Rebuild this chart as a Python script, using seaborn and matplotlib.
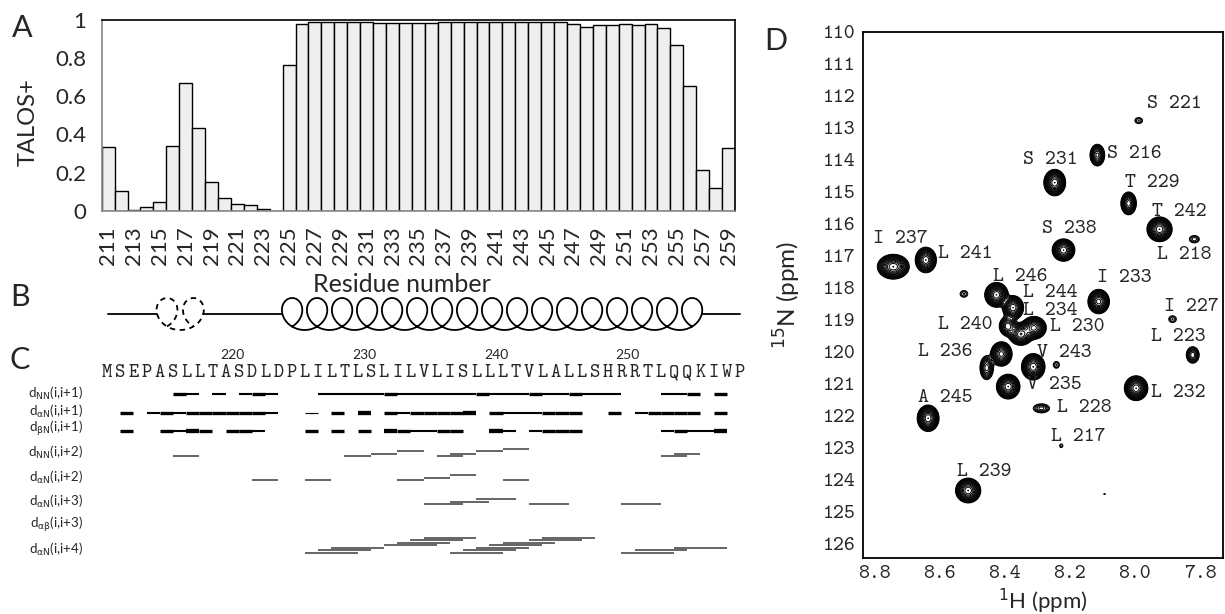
import numpy as np
import matplotlib
matplotlib.use("Agg")
import matplotlib.pyplot as plt
import seaborn as sns

# ---------------- data ----------------
# panel A: TALOS+ helix probability
residues = list(range(211, 260))
talos = [0.332, 0.104, 0.005, 0.018, 0.047, 0.337, 0.668, 0.434, 0.148, 0.065,
         0.035, 0.028, 0.011, 0.0, 0.765, 0.977,
         0.987, 0.987, 0.987, 0.987, 0.987, 0.986, 0.986, 0.986, 0.986, 0.986,
         0.99, 0.99, 0.99, 0.99, 0.99, 0.99, 0.99, 0.99, 0.99, 0.99,
         0.979, 0.965, 0.972, 0.976, 0.978, 0.976, 0.981, 0.958, 0.869, 0.654,
         0.213, 0.121, 0.330]

# panel B: secondary structure
ss_type = ["coil", "dashed", "coil", "helix", "coil"]
ss_start = [211.1, 214.8, 218.3, 224.3, 256.1]
ss_end = [214.8, 218.3, 224.3, 256.1, 259.0]
ss_turns = [0, 2, 0, 17, 0]

# panel C: sequence and NOE connectivities
sequence = "MSEPASLLTASDLDPLILTLSLILVLISLLLTVLALLSHRRTLQQKIWP"
seq_marks = [220, 230, 240, 250]

dnn1_start = [216, 217, 219, 221, 222, 223, 227, 228, 229, 230, 231, 232, 233, 234,
              235, 236, 237, 238, 239, 240, 241, 242, 243, 244, 245, 246, 247, 248,
              249, 253, 254, 255, 257]
dnn1_str = [2, 1, 1, 1, 2, 1, 1, 1, 1, 1, 1, 2, 1, 1,
            1, 1, 1, 1, 2, 1, 1, 1, 2, 1, 1, 2, 1, 1,
            1, 1, 1, 2, 2]
dan1_start = [212, 214, 215, 216, 217, 218, 219, 220, 221, 222, 223, 226, 228, 230,
              232, 233, 234, 235, 236, 237, 238, 240, 241, 242, 243, 244, 245, 246,
              249, 251, 252, 253, 254, 255, 257]
dan1_str = [2, 1, 2, 1, 2, 2, 2, 2, 2, 2, 1, 0, 2, 3,
            2, 1, 2, 2, 2, 2, 3, 2, 1, 1, 1, 2, 2, 2,
            2, 1, 2, 2, 2, 2, 2]
dbn1_start = [212, 215, 216, 217, 218, 220, 221, 222, 226, 228, 230, 232, 233, 234,
              235, 236, 237, 240, 241, 243, 244, 245, 246, 253, 254, 255, 256, 257]
dbn1_str = [2, 2, 1, 3, 2, 2, 2, 1, 2, 2, 2, 3, 2, 1,
            1, 2, 2, 3, 1, 1, 2, 2, 2, 1, 2, 1, 1, 3]

dnn2_start = [216, 229, 231, 233, 236, 237, 239, 241, 253, 254]
dan2_start = [222, 226, 233, 235, 237, 241]
dan3_start = [235, 237, 239, 243, 250]
dab3_start = []
dan4_start = [226, 227, 228, 232, 233, 234, 235, 237, 238, 239, 240, 241, 243, 244,
              250, 251, 254]

row_labels = [r"d$_{\rm NN}$(i,i+1)", r"d$_{\rm \alpha N}$(i,i+1)", r"d$_{\rm \beta N}$(i,i+1)",
              r"d$_{\rm NN}$(i,i+2)", r"d$_{\rm \alpha N}$(i,i+2)", r"d$_{\rm \alpha N}$(i,i+3)",
              r"d$_{\rm \alpha\beta}$(i,i+3)", r"d$_{\rm \alpha N}$(i,i+4)"]

# panel D: 1H-15N HSQC peaks (H ppm, N ppm, intensity, H width, N width)
peak_label = ["S 221", "S 216", "S 231", "T 229", "T 242", "L 218", "S 238", "I 237",
              "L 241", "", "L 246", "L 244", "I 233", "L 230", "L 234", "L 240",
              "L 236", "", "V 243", "", "V 235", "I 227", "L 223", "L 232",
              "L 228", "L 217", "A 245", "L 239", ""]
peak_h = [7.988, 8.115, 8.246, 8.019, 7.924, 7.817, 8.219, 8.742,
          8.642, 8.525, 8.425, 8.374, 8.111, 8.310, 8.350, 8.390,
          8.410, 8.455, 8.312, 8.241, 8.389, 7.884, 7.822, 7.996,
          8.287, 8.226, 8.635, 8.512, 8.093]
peak_n = [112.77, 113.85, 114.71, 115.36, 116.17, 116.48, 116.82, 117.34,
          117.13, 118.19, 118.22, 118.62, 118.43, 119.25, 119.45, 119.20,
          120.07, 120.50, 120.47, 120.41, 121.09, 118.98, 120.10, 121.14,
          121.77, 122.94, 122.08, 124.34, 124.45]
peak_int = [0.07, 0.45, 1.0, 0.6, 1.0, 0.08, 0.8, 1.0,
            0.8, 0.07, 1.0, 0.8, 0.9, 0.9, 0.8, 0.4,
            0.9, 0.3, 1.0, 0.07, 1.0, 0.07, 0.25, 1.0,
            0.12, 0.05, 1.0, 1.0, 0.04]
peak_wh = [0.010, 0.010, 0.013, 0.010, 0.015, 0.012, 0.014, 0.019,
           0.013, 0.010, 0.014, 0.013, 0.013, 0.015, 0.015, 0.012,
           0.013, 0.010, 0.014, 0.008, 0.014, 0.010, 0.010, 0.014,
           0.016, 0.006, 0.013, 0.015, 0.006]
peak_wn = [0.08, 0.15, 0.16, 0.15, 0.15, 0.09, 0.14, 0.15,
           0.16, 0.09, 0.15, 0.15, 0.15, 0.14, 0.14, 0.14,
           0.15, 0.18, 0.16, 0.09, 0.15, 0.09, 0.13, 0.15,
           0.09, 0.07, 0.16, 0.15, 0.03]

# label anchor points (left edge, centre) in ppm -- layout only
label_pos = {
    "S 221": (7.964, 112.25), "S 216": (8.084, 113.81), "S 231": (8.345, 114.0),
    "T 229": (8.029, 114.72), "T 242": (7.946, 115.63), "L 218": (7.931, 116.97),
    "S 238": (8.286, 116.16), "I 237": (8.804, 116.47), "L 241": (8.605, 116.94),
    "L 246": (8.436, 117.66), "I 233": (8.117, 117.69), "L 244": (8.345, 118.17),
    "L 234": (8.345, 118.72), "L 240": (8.605, 119.16), "L 230": (8.262, 119.22),
    "I 227": (7.909, 118.6), "L 223": (7.95, 119.54), "L 236": (8.666, 120.0),
    "V 243": (8.301, 120.04), "V 235": (8.33, 121.04), "L 232": (7.95, 121.29),
    "A 245": (8.666, 121.44), "L 228": (8.24, 121.76), "L 217": (8.256, 122.66),
    "L 239": (8.547, 123.76),
}

# ---------------- figure ----------------
sns.set_style("white")
plt.rcParams["font.family"] = ["Lato", "DejaVu Sans"]
W, H = 1225, 614
fig = plt.figure(figsize=(W / 100, H / 100), dpi=100)
GREY = "#888888"
MONO = "cmtt10"

# ---- A
axA = fig.add_axes([101.7 / W, 1 - 210.7 / H, (735 - 101.7) / W, (210.7 - 20) / H])
sns.barplot(x=residues, y=talos, native_scale=True, width=1.0, color="#efefef",
            saturation=1, edgecolor="black", linewidth=1.0, errorbar=None, ax=axA)
axA.set_xlim(210.5, 259.5)
axA.set_ylim(0, 1)
axA.set_xticks(residues[::2])
axA.set_xticklabels([str(r) for r in residues[::2]], rotation=90)
axA.set_xticks(np.arange(210.5, 260, 1), minor=True)
axA.tick_params(axis="x", which="major", length=0, pad=11, labelsize=16)
axA.tick_params(axis="x", which="minor", length=5, color=GREY, width=1, direction="out")
axA.set_yticks([0, 0.2, 0.4, 0.6, 0.8, 1.0])
axA.set_yticklabels(["0", "0.2", "0.4", "0.6", "0.8", "1"])
axA.tick_params(axis="y", length=6, color=GREY, width=1, pad=5, labelsize=16, direction="out")
for s in ["left", "bottom"]:
    axA.spines[s].set_color(GREY)
    axA.spines[s].set_linewidth(1.2)
for s in ["top", "right"]:
    axA.spines[s].set_color("black")
    axA.spines[s].set_linewidth(1.2)
axA.set_xlabel("Residue number", fontsize=18)
axA.xaxis.set_label_coords(0.474, -0.325)
axA.set_ylabel("TALOS+", fontsize=17)
axA.yaxis.set_label_coords(-0.1, 0.465)

# ---- B and C share one residue axis, y in pixel rows
axC = fig.add_axes([100.4 / W, 1 - 570 / H, 646.2 / W, 280 / H])
axC.set_xlim(210.5, 259.5)
axC.set_ylim(570, 290)
axC.axis("off")

# secondary structure cartoon: looped coil, each loop crossing near its base
y0, amp_y = 314, 16
for kind, s0, s1, nt in zip(ss_type, ss_start, ss_end, ss_turns):
    if kind == "coil":
        axC.plot([s0, s1], [y0, y0], color="black", lw=1.3)
        continue
    rad = 1.21 if kind == "helix" else 1.25
    c = (s1 - s0 - 2 * rad) / ((2 * nt - 3) * np.pi)
    x0 = s0 + rad - 1.5 * np.pi * c
    grid = np.linspace(0.01, np.pi, 20000)
    half = grid[np.argmin(np.abs(np.sin(grid) / grid - c / rad))]
    t = np.linspace(np.pi - half, (2 * nt - 1) * np.pi + half, 300 * nt)
    xs = x0 + c * t + rad * np.sin(t)
    ys = y0 + amp_y * np.cos(t)
    axC.plot(xs, ys, color="black", lw=1.3,
             ls="-" if kind == "helix" else (0, (3, 2.5)))

# sequence
for i, aa in enumerate(sequence):
    axC.text(residues[i], 373, aa, ha="center", va="center", fontsize=14,
             family=MONO)
for m in seq_marks:
    axC.text(m + 0.5, 355, str(m), ha="center", va="center", fontsize=10)

row_y = [394, 412.7, 430.7, 456, 480, 504, 528, 552.7]
label_y = [393, 411, 429, 452, 477, 501, 525, 549]
for lab, ly in zip(row_labels, label_y):
    axC.text(209.2, ly, lab, ha="right", va="center", fontsize=9.5)

lw_map = {0: 0.8, 1: 1.5, 2: 2.4, 3: 3.1}
for starts, strs, yy in [(dnn1_start, dnn1_str, row_y[0]),
                         (dan1_start, dan1_str, row_y[1]),
                         (dbn1_start, dbn1_str, row_y[2])]:
    for s, k in zip(starts, strs):
        axC.plot([s, s + 1], [yy, yy], color="black", lw=lw_map[k],
                 solid_capstyle="butt")

for starts, span, yy in [(dnn2_start, 2, row_y[3]), (dan2_start, 2, row_y[4]),
                         (dan3_start, 3, row_y[5]), (dab3_start, 3, row_y[6]),
                         (dan4_start, 4, row_y[7])]:
    level, prev_end = 0, None
    for s in starts:
        if prev_end is not None and s <= prev_end and level < 6:
            level += 1
        else:
            level = 0
        prev_end = s + span
        axC.plot([s, s + span], [yy - 2.5 * level] * 2, color="#3a3a3a", lw=1.1,
                 solid_capstyle="butt")

# ---- D
axD = fig.add_axes([862.7 / W, 1 - 558 / H, (1223 - 862.7) / W, (558 - 32) / H])
hh = np.linspace(7.70, 8.86, 800)
nn = np.linspace(109.8, 126.7, 800)
HH, NN = np.meshgrid(hh, nn)
Z = np.zeros_like(HH)
for h, n, a, wh, wn in zip(peak_h, peak_n, peak_int, peak_wh, peak_wn):
    Z += a * np.exp(-0.5 * ((HH - h) / wh) ** 2 - 0.5 * ((NN - n) / wn) ** 2)
levels = 0.035 * 1.25 ** np.arange(16)
axD.contour(HH, NN, Z, levels=levels, colors="black", linewidths=0.7)
for lab in peak_label:
    if lab:
        lx, ly = label_pos[lab]
        axD.text(lx, ly, lab, ha="left", va="center", fontsize=15, family=MONO)
axD.set_xlim(8.836, 7.729)
axD.set_ylim(126.45, 110)
axD.set_xticks([8.8, 8.6, 8.4, 8.2, 8.0, 7.8])
axD.set_xticklabels(["8.8", "8.6", "8.4", "8.2", "8.0", "7.8"])
axD.set_yticks(range(110, 127))
axD.tick_params(axis="both", direction="in", length=4.5, width=1.2, labelsize=15,
                labelfontfamily=MONO, pad=5)
for s in axD.spines.values():
    s.set_color("black")
    s.set_linewidth(1.3)
axD.set_xlabel(r"$^{1}$H (ppm)", fontsize=16)
axD.xaxis.set_label_coords(0.5, -0.054)
axD.set_ylabel(r"$^{15}$N (ppm)", fontsize=17.5)
axD.yaxis.set_label_coords(-0.166, 0.5)

# panel letters
for letter, (px, py) in zip("ABCD", [(22, 28), (20, 297), (20, 360), (776, 41)]):
    fig.text(px / W, 1 - py / H, letter, fontsize=22, ha="center", va="center")

fig.savefig("out.png", dpi=100)
